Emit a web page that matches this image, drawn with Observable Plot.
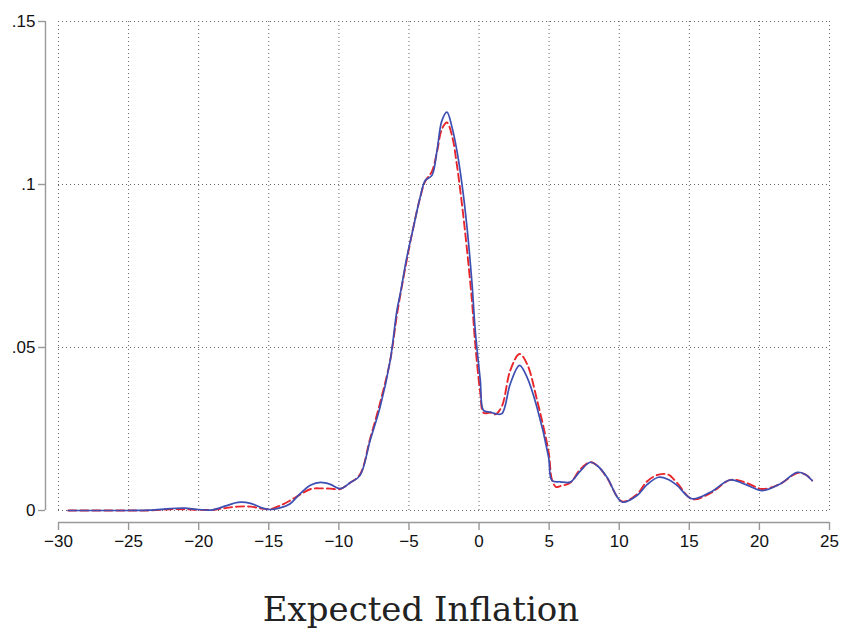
<!DOCTYPE html>
<html>
<head>
<meta charset="utf-8">
<script src="https://cdn.jsdelivr.net/npm/d3@7"></script>
<script src="https://cdn.jsdelivr.net/npm/@observablehq/plot@0.6"></script>
<style>
  html, body { margin: 0; padding: 0; background: #fff; }
  #chart { width: 842px; }
  #chart svg text { font-family: "Liberation Sans", Arial, sans-serif !important; font-size: 17px !important; }
  #title { width: 842px; text-align: center; font-family: "DejaVu Serif", serif; font-size: 34px; color: #222; margin-top: 29px; line-height: 40px; }
</style>
</head>
<body>
<div id="chart"></div>
<div id="title">Expected Inflation</div>
<script>
const xTicks = [-30, -25, -20, -15, -10, -5, 0, 5, 10, 15, 20, 25];
const yTicks = [0, 0.05, 0.1, 0.15];

const blueX = [-29.3, -27, -25, -23.5, -22, -21, -20, -19, -18, -17.2, -16.3, -15.5, -14.9, -14.2, -13.5, -12.8, -12, -11.3, -10.6, -9.9, -9.2, -8.5, -7.77, -7.06, -6.34, -5.86, -5.62, -5.15, -4.68, -4.2, -3.84, -3.36, -3.0, -2.65, -2.29, -1.93, -1.58, -1.22, -0.86, -0.5, -0.27, 0.09, 0.32, 0.8, 1.16, 1.63, 2.23, 2.89, 3.42, 4.13, 4.96, 5.2, 5.8, 6.5, 7.2, 7.94, 8.5, 9.13, 10.2, 11.27, 12.0, 12.81, 13.5, 14.12, 15.2, 16.5, 17.93, 19, 20.2, 21.5, 22.7, 23.3, 23.76];
const blueY = [0, 0, 0, 0.0001, 0.0006, 0.0007, 0.0003, 0.0002, 0.0015, 0.0025, 0.0022, 0.0008, 0.0003, 0.0008, 0.002, 0.005, 0.0078, 0.0086, 0.008, 0.0067, 0.0085, 0.0107, 0.0215, 0.0317, 0.046, 0.0613, 0.0665, 0.0777, 0.0869, 0.0961, 0.1012, 0.1028, 0.1104, 0.1196, 0.1222, 0.1176, 0.1104, 0.1002, 0.0869, 0.0695, 0.0552, 0.0399, 0.0307, 0.0302, 0.0297, 0.0297, 0.0389, 0.0445, 0.0409, 0.0317, 0.0164, 0.0092, 0.0088, 0.0087, 0.012, 0.0148, 0.0135, 0.0102, 0.0026, 0.0046, 0.008, 0.0102, 0.0095, 0.0077, 0.0036, 0.0056, 0.0094, 0.008, 0.0061, 0.0082, 0.0117, 0.011, 0.0092];

const redX = [-29.3, -27, -25, -23.5, -22, -21, -20, -19, -18, -17.2, -16.3, -15.5, -14.9, -14.2, -13.5, -12.8, -12, -11.3, -10.6, -9.9, -9.2, -8.5, -7.77, -7.06, -6.34, -5.86, -5.62, -5.15, -4.68, -4.2, -3.84, -3.36, -3.0, -2.65, -2.29, -1.93, -1.58, -1.22, -0.86, -0.5, -0.27, 0.09, 0.32, 0.8, 1.16, 1.63, 2.23, 2.89, 3.42, 4.13, 4.96, 5.2, 5.5, 5.8, 6.5, 7.2, 7.94, 8.5, 9.13, 10.2, 11.27, 12.0, 12.81, 13.5, 14.12, 15.2, 16.5, 17.93, 19, 20.2, 21.5, 22.7, 23.3, 23.76];
const redY = [0, 0, 0, 0, 0.0004, 0.0004, 0.0002, 0.0002, 0.0008, 0.0012, 0.0012, 0.0006, 0.0004, 0.0015, 0.003, 0.0048, 0.0066, 0.0068, 0.0067, 0.0066, 0.0085, 0.011, 0.022, 0.033, 0.046, 0.06, 0.066, 0.077, 0.087, 0.096, 0.101, 0.104, 0.11, 0.117, 0.119, 0.115, 0.106, 0.094, 0.08, 0.064, 0.051, 0.036, 0.03, 0.03, 0.0295, 0.032, 0.043, 0.048, 0.045, 0.034, 0.018, 0.0095, 0.0072, 0.0075, 0.0085, 0.0125, 0.0148, 0.0135, 0.01, 0.0028, 0.005, 0.009, 0.011, 0.011, 0.0085, 0.0035, 0.0053, 0.0094, 0.0086, 0.0066, 0.0082, 0.0115, 0.011, 0.0092];

const blue = blueX.map((x, i) => ({x, y: blueY[i]}));
const red = redX.map((x, i) => ({x, y: redY[i]}));

const yFmt = d => d === 0 ? "0" : d3.format(".2~f")(d).replace(/^0/, "");

const chart = Plot.plot({
  width: 842,
  height: 560,
  marginLeft: 58,
  marginRight: 13,
  marginTop: 21,
  marginBottom: 50,
  style: {fontFamily: "Liberation Sans, Arial, sans-serif", fontSize: "17px", color: "#111", background: "#fff"},
  x: {domain: [-30, 25], label: null},
  y: {domain: [0, 0.15], label: null},
  marks: [
    Plot.gridX(xTicks, {stroke: "#666", strokeOpacity: 1, strokeDasharray: "1,3"}),
    Plot.gridY(yTicks, {stroke: "#666", strokeOpacity: 1, strokeDasharray: "1,3"}),
    Plot.ruleX([-30], {y1: 0, y2: 0.15, dx: -13, stroke: "#999", strokeWidth: 1.4}),
    Plot.ruleY([0], {x1: -30, x2: 25, dy: 12, stroke: "#999", strokeWidth: 1.4}),
    Plot.axisX(xTicks, {dy: 12, tickSize: 8, tickPadding: 4, stroke: "#999", strokeWidth: 1.4, fill: "#111", label: null}),
    Plot.axisY(yTicks, {dx: -13, tickSize: 7, tickPadding: 3, stroke: "#999", strokeWidth: 1.4, fill: "#111", tickFormat: yFmt, label: null}),
    Plot.line(red, {x: "x", y: "y", stroke: "#e8252b", strokeWidth: 1.9, strokeDasharray: "8,4", curve: "catmull-rom"}),
    Plot.line(blue, {x: "x", y: "y", stroke: "#3d4fb3", strokeWidth: 1.7, curve: "catmull-rom"})
  ]
});
document.getElementById("chart").appendChild(chart);
</script>
</body>
</html>
